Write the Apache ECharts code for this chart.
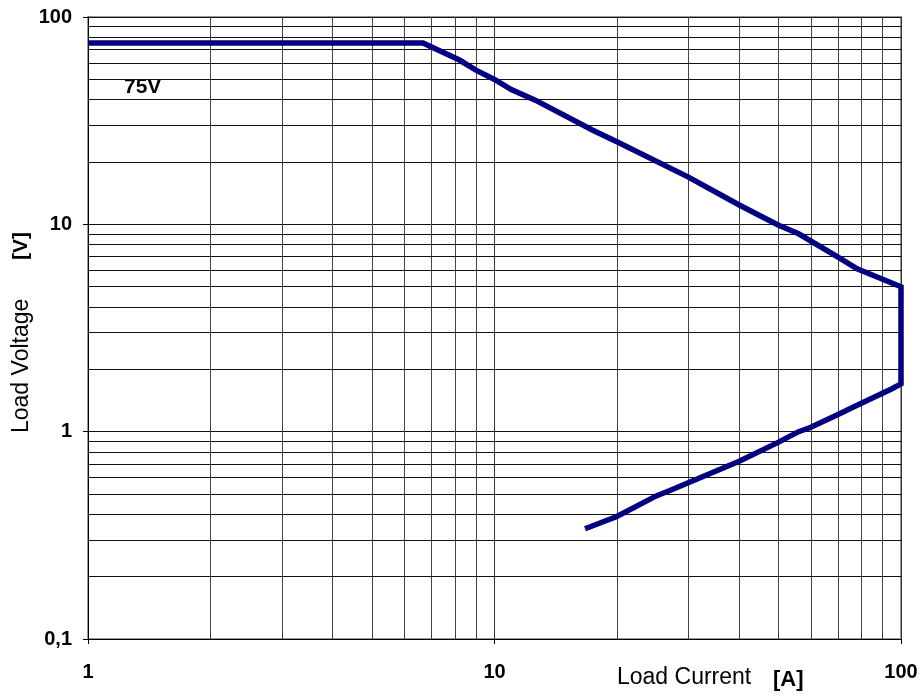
<!DOCTYPE html>
<html>
<head>
<meta charset="utf-8">
<script src="https://cdn.jsdelivr.net/npm/echarts@6/dist/echarts.min.js"></script>
<style>
html,body{margin:0;padding:0;background:#fff;}
#chart{width:923px;height:698px;}
</style>
</head>
<body>
<div id="chart"></div>
<script>
// Data: load current [A] vs load voltage [V]
var currentA = [1, 6.67, 8.2, 9.0, 10, 11, 12.6, 17.4, 20, 30, 40, 45, 50, 56, 70, 78, 100,
                100, 95, 78, 70, 60, 56, 50, 40, 27, 25, 20, 16.7];
var voltageV = [75, 75, 62, 55.4, 50, 44.7, 39.7, 28.5, 25, 16.9, 12.4, 11, 9.9, 9.0, 6.95, 6.1, 5.0,
                1.7, 1.61, 1.34, 1.21, 1.05, 1.0, 0.89, 0.72, 0.52, 0.49, 0.39, 0.34];
// Minor grid line positions
var xMinorGrid = [2,3,4,5,6,7,8,9,20,30,40,50,60,70,80,90];
var yMinorGrid = [0.2,0.3,0.4,0.5,0.6,0.7,0.8,0.9,2,3,4,5,6,7,8,9,20,30,40,50,60,70,80,90];

var curve = currentA.map(function (x, i) { return [x, voltageV[i]]; });

var gridMarks = [];
xMinorGrid.forEach(function (v) {
  gridMarks.push({ xAxis: v, lineStyle: { color: '#444', width: 1, type: 'solid' } });
});
yMinorGrid.forEach(function (v) {
  gridMarks.push({ yAxis: v, lineStyle: { color: '#111', width: 1, type: 'solid' } });
});

var chart = echarts.init(document.getElementById('chart'), null, { renderer: 'canvas' });
var numFont = { fontFamily: 'Liberation Sans, Arial, sans-serif', fontWeight: 'bold', fontSize: 20, color: '#000' };

chart.setOption({
  animation: false,
  backgroundColor: '#fff',
  grid: { left: 88, right: 22, top: 17, bottom: 59, show: true, borderColor: '#999', borderWidth: 2, backgroundColor: 'transparent' },
  xAxis: {
    type: 'log', logBase: 10, min: 1, max: 100,
    axisLine: { show: true, onZero: false, lineStyle: { color: '#000', width: 1 } },
    axisTick: { show: true, inside: false, length: 5, lineStyle: { color: '#000' } },
    axisLabel: Object.assign({ margin: 23, showMinLabel: true, showMaxLabel: true }, numFont),
    splitLine: { show: true, lineStyle: { color: '#333', width: 1 } },
    minorTick: { show: false }, minorSplitLine: { show: false }
  },
  yAxis: {
    type: 'log', logBase: 10, min: 0.1, max: 100,
    axisLine: { show: true, onZero: false, lineStyle: { color: '#000', width: 1 } },
    axisTick: { show: true, inside: false, length: 5, lineStyle: { color: '#000' } },
    axisLabel: Object.assign({
      margin: 16, showMinLabel: true, showMaxLabel: true,
      formatter: function (v) { return String(v).replace('.', ','); }
    }, numFont),
    splitLine: { show: true, lineStyle: { color: '#111', width: 1 } },
    minorTick: { show: false }, minorSplitLine: { show: false }
  },
  series: [
    {
      type: 'line', data: [], silent: true,
      markLine: { silent: true, symbol: ['none', 'none'], label: { show: false }, data: gridMarks, animation: false, z: 1 }
    },
    {
      type: 'line', data: curve, showSymbol: false, symbol: 'none', clip: false, z: 5,
      lineStyle: { color: '#000080', width: 5.5, join: 'miter' }
    }
  ],
  graphic: [
    { type: 'text', left: 124, top: 77, style: { text: '75V', font: 'bold 21px "Liberation Sans", Arial, sans-serif', fill: '#000' } },
    { type: 'text', left: 617, top: 666, style: { text: 'Load Current', font: '23px "Liberation Sans", Arial, sans-serif', fill: '#000' } },
    { type: 'text', left: 773, top: 669, style: { text: '[A]', font: 'bold 22px "Liberation Sans", Arial, sans-serif', fill: '#000' } },
    { type: 'text', x: 10, y: 433, rotation: Math.PI / 2, style: { text: 'Load Voltage', font: '23px "Liberation Sans", Arial, sans-serif', fill: '#000', textVerticalAlign: 'top' } },
    { type: 'text', x: 11, y: 260, rotation: Math.PI / 2, style: { text: '[V]', font: 'bold 21px "Liberation Sans", Arial, sans-serif', fill: '#000', textVerticalAlign: 'top' } }
  ]
});
</script>
</body>
</html>
